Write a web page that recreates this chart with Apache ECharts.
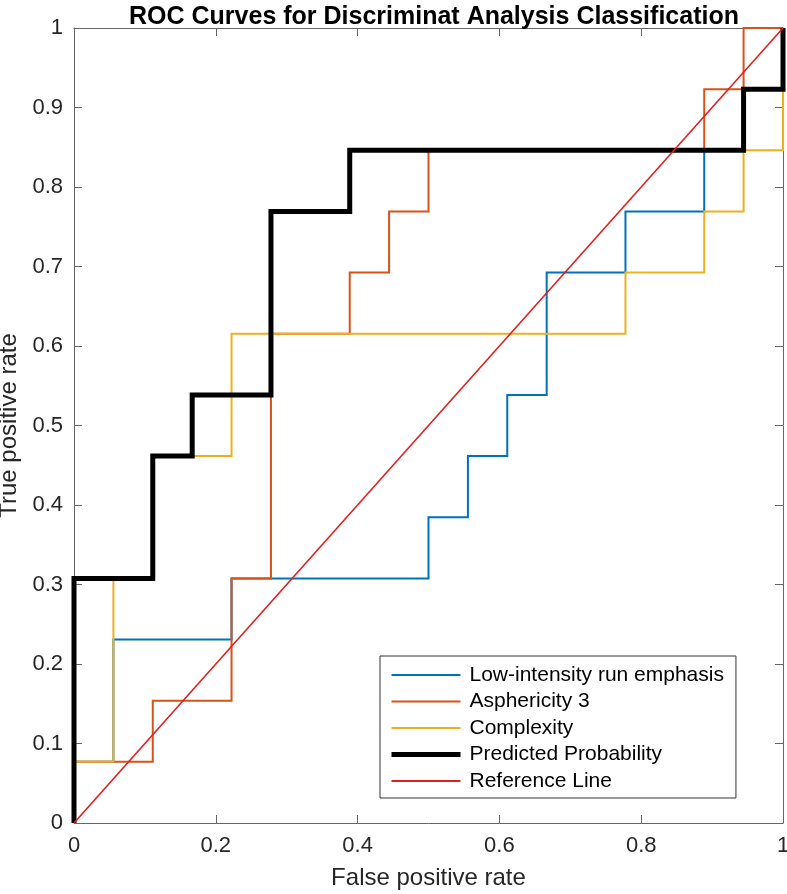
<!DOCTYPE html>
<html>
<head>
<meta charset="utf-8">
<title>ROC Curves</title>
<script src="https://cdn.jsdelivr.net/npm/echarts@6/dist/echarts.min.js"></script>
<style>
  html, body { margin: 0; padding: 0; background: #fff; }
  #roc_chart { width: 787px; height: 894px; }
</style>
</head>
<body>
<div id="roc_chart"></div>
<script>
// ROC 曲线数据 (假阳性率 / 真阳性率)
const seriesNames = ['Low-intensity run emphasis', 'Asphericity 3', 'Complexity', 'Predicted Probability', 'Reference Line']

const lireFpr = [0, 0, 0.0556, 0.0556, 0.2222, 0.2222, 0.5, 0.5, 0.5556, 0.5556, 0.6111, 0.6111, 0.6667, 0.6667, 0.7778, 0.7778, 0.8889, 0.8889, 0.9444, 0.9444, 1, 1]
const lireTpr = [0, 0.0769, 0.0769, 0.2308, 0.2308, 0.3077, 0.3077, 0.3846, 0.3846, 0.4615, 0.4615, 0.5385, 0.5385, 0.6923, 0.6923, 0.7692, 0.7692, 0.8462, 0.8462, 0.9231, 0.9231, 1]

const asphFpr = [0, 0, 0.1111, 0.1111, 0.2222, 0.2222, 0.2778, 0.2778, 0.3889, 0.3889, 0.4444, 0.4444, 0.5, 0.5, 0.8889, 0.8889, 0.9444, 0.9444, 1]
const asphTpr = [0, 0.0769, 0.0769, 0.1538, 0.1538, 0.3077, 0.3077, 0.6154, 0.6154, 0.6923, 0.6923, 0.7692, 0.7692, 0.8462, 0.8462, 0.9231, 0.9231, 1, 1]

const complFpr = [0, 0, 0.0556, 0.0556, 0.1111, 0.1111, 0.2222, 0.2222, 0.7778, 0.7778, 0.8889, 0.8889, 0.9444, 0.9444, 1, 1]
const complTpr = [0, 0.0769, 0.0769, 0.3077, 0.3077, 0.4615, 0.4615, 0.6154, 0.6154, 0.6923, 0.6923, 0.7692, 0.7692, 0.8462, 0.8462, 1]

const predFpr = [0, 0, 0.1111, 0.1111, 0.1667, 0.1667, 0.2778, 0.2778, 0.3889, 0.3889, 0.9444, 0.9444, 1, 1]
const predTpr = [0, 0.3077, 0.3077, 0.4615, 0.4615, 0.5385, 0.5385, 0.7692, 0.7692, 0.8462, 0.8462, 0.9231, 0.9231, 1]

const refFpr = [0, 1]
const refTpr = [0, 1]

const xTicks = [0, 0.2, 0.4, 0.6, 0.8, 1]
const yTicks = [0, 0.1, 0.2, 0.3, 0.4, 0.5, 0.6, 0.7, 0.8, 0.9, 1]

const FONT = '"Liberation Sans", Arial, Helvetica, sans-serif'
const AXIS_COLOR = '#666'
const TEXT_COLOR = '#262626'

function pairs(xs, ys) {
  return xs.map((x, i) => [x, ys[i]])
}

const chartInstance = echarts.init(document.getElementById('roc_chart'), null, { renderer: 'canvas' })

// 四周都画轴线, 刻度朝内
function makeAxis(dim, pos, ticks, withLabel) {
  const axis = {
    type: 'value',
    position: pos,
    min: ticks[0],
    max: ticks[ticks.length - 1],
    interval: ticks[1] - ticks[0],
    splitLine: { show: false },
    axisLine: { show: true, onZero: false, lineStyle: { color: AXIS_COLOR, width: 1 } },
    axisTick: { show: true, inside: true, length: 8, lineStyle: { color: AXIS_COLOR, width: 1 } },
    axisLabel: {
      show: withLabel,
      color: TEXT_COLOR,
      fontFamily: FONT,
      fontSize: 22,
      margin: dim === 'x' ? 12 : 11,
      formatter: v => String(Math.round(v * 10) / 10),
    },
  }
  return axis
}

const xBottom = makeAxis('x', 'bottom', xTicks, true)
xBottom.name = 'False positive rate'
xBottom.nameLocation = 'middle'
xBottom.nameGap = 43
xBottom.nameTextStyle = { color: TEXT_COLOR, fontFamily: FONT, fontSize: 24 }

const yLeft = makeAxis('y', 'left', yTicks, true)
yLeft.name = 'True positive rate'
yLeft.nameLocation = 'middle'
yLeft.nameGap = 49
yLeft.nameTextStyle = { color: TEXT_COLOR, fontFamily: FONT, fontSize: 24 }

const styles = [
  { color: '#0072BD', width: 2 },
  { color: '#D95319', width: 2 },
  { color: '#EDB120', width: 2 },
  { color: '#000000', width: 5 },
  { color: '#E01F1F', width: 1.6 },
]
const curves = [
  [lireFpr, lireTpr],
  [asphFpr, asphTpr],
  [complFpr, complTpr],
  [predFpr, predTpr],
  [refFpr, refTpr],
]

const lineSeries = curves.map((c, i) => ({
  name: seriesNames[i],
  type: 'line',
  data: pairs(c[0], c[1]),
  symbol: 'none',
  clip: false,
  z: 2 + i,
  animation: false,
  lineStyle: { color: styles[i].color, width: styles[i].width, cap: 'butt', join: 'miter' },
  itemStyle: { color: styles[i].color },
}))

const option = {
  backgroundColor: '#fff',
  animation: false,
  title: {
    text: 'ROC Curves for Discriminat Analysis Classification',
    left: 429,
    top: 0,
    textAlign: 'center',
    textStyle: { color: '#000', fontFamily: FONT, fontWeight: 'bold', fontSize: 25 },
  },
  grid: { left: 74, right: 4, top: 28, bottom: 71, containLabel: false, outerBoundsMode: 'none' },
  xAxis: [xBottom, makeAxis('x', 'top', xTicks, false)],
  yAxis: [yLeft, makeAxis('y', 'right', yTicks, false)],
  legend: {
    orient: 'vertical',
    left: 380,
    top: 656,
    data: seriesNames.map((n, i) => ({
      name: n,
      lineStyle: { width: i === 3 ? 5 : 1.8, color: styles[i].color },
      itemStyle: { color: 'transparent', opacity: 0, borderWidth: 0 },
    })),
    itemWidth: 69,
    itemHeight: 14,
    itemGap: 4.5,
    padding: [8, 12, 6, 9],
    backgroundColor: '#fff',
    borderColor: '#333',
    borderWidth: 1,
    borderRadius: 0,
    selectedMode: false,
    textStyle: { color: '#000', fontFamily: FONT, fontSize: 21, lineHeight: 22, padding: [0, 0, 0, 4] },
  },
  series: lineSeries,
}

chartInstance.setOption(option)
</script>
</body>
</html>
